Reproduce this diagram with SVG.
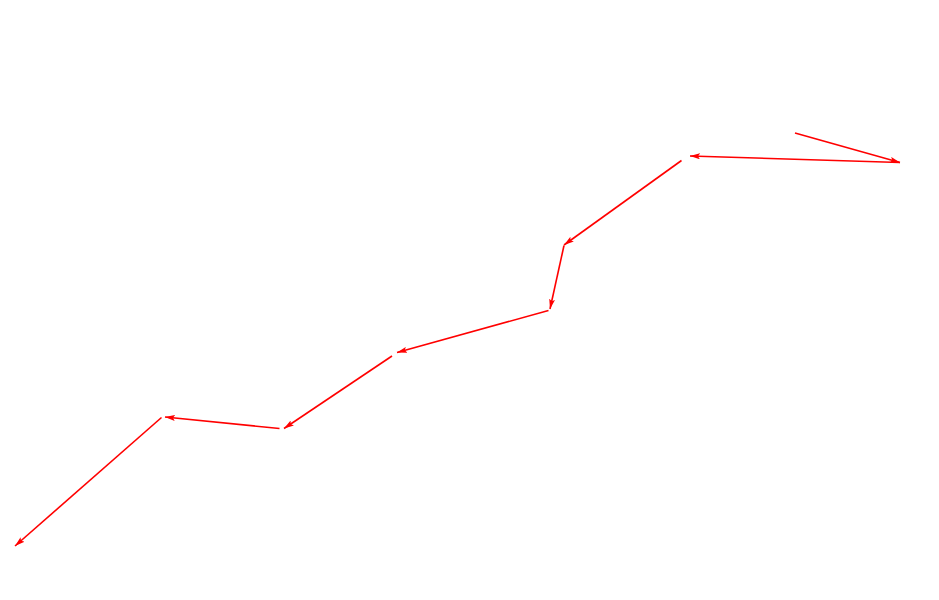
<svg xmlns="http://www.w3.org/2000/svg" width="939" height="600" viewBox="0 0 939 600">
<defs>
<marker id="ah" viewBox="0 0 10 6" refX="10" refY="3" markerWidth="10" markerHeight="6" markerUnits="userSpaceOnUse" orient="auto">
<path d="M0,0 L10,3 L0,6 L2,3 Z" fill="#ff0000"/>
</marker>
<style>.c{stroke:#ff0000;stroke-width:1.6;fill:none;marker-end:url(#ah)}</style>
</defs>
<rect width="939" height="600" fill="#ffffff"/>
<g id="connectors">
<line class="c" x1="795" y1="133" x2="900" y2="162.5"/>
<line class="c" x1="900" y1="162.5" x2="690" y2="156"/>
<line class="c" x1="681.5" y1="160.5" x2="564" y2="245"/>
<line class="c" x1="564" y1="245.5" x2="550" y2="309"/>
<line class="c" x1="548.5" y1="310.5" x2="397" y2="352.5"/>
<line class="c" x1="392" y1="356" x2="284" y2="428.5"/>
<line class="c" x1="279.5" y1="428.5" x2="165" y2="417"/>
<line class="c" x1="161.5" y1="417.5" x2="15" y2="546"/>
</g>
</svg>
